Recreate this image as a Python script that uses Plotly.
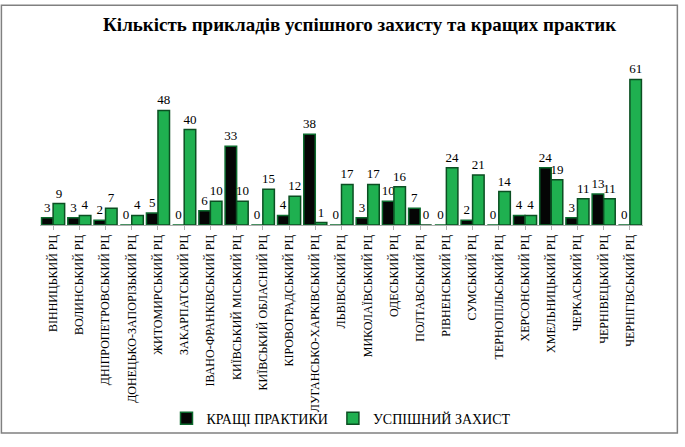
import plotly.graph_objects as go

categories = [
    "ВІННИЦЬКИЙ РЦ", "ВОЛИНСЬКИЙ РЦ", "ДНІПРОПЕТРОВСЬКИЙ РЦ", "ДОНЕЦЬКО-ЗАПОРІЗЬКИЙ РЦ",
    "ЖИТОМИРСЬКИЙ РЦ", "ЗАКАРПАТСЬКИЙ РЦ", "ІВАНО-ФРАНКІВСЬКИЙ РЦ", "КИЇВСЬКИЙ МІСЬКИЙ РЦ",
    "КИЇВСЬКИЙ ОБЛАСНИЙ РЦ", "КІРОВОГРАДСЬКИЙ РЦ", "ЛУГАНСЬКО-ХАРКІВСЬКИЙ РЦ", "ЛЬВІВСЬКИЙ РЦ",
    "МИКОЛАЇВСЬКИЙ РЦ", "ОДЕСЬКИЙ РЦ", "ПОЛТАВСЬКИЙ РЦ", "РІВНЕНСЬКИЙ РЦ",
    "СУМСЬКИЙ РЦ", "ТЕРНОПІЛЬСЬКИЙ РЦ", "ХЕРСОНСЬКИЙ РЦ", "ХМЕЛЬНИЦЬКИЙ РЦ",
    "ЧЕРКАСЬКИЙ РЦ", "ЧЕРНІВЕЦЬКИЙ РЦ", "ЧЕРНІГІВСЬКИЙ РЦ",
]
best_practices = [3, 3, 2, 0, 5, 0, 6, 33, 0, 4, 38, 0, 3, 10, 7, 0, 2, 0, 4, 24, 3, 13, 0]
successful_defense = [9, 4, 7, 4, 48, 40, 10, 10, 15, 12, 1, 17, 17, 16, 0, 24, 21, 14, 4, 19, 11, 11, 61]

serif = "Liberation Serif"

fig = go.Figure()
fig.add_trace(go.Bar(
    x=categories, y=best_practices, name="КРАЩІ ПРАКТИКИ",
    marker=dict(color="#050505", line=dict(color="#0d6b2e", width=1.5)),
    text=best_practices, textposition="outside", cliponaxis=False, constraintext="none",
    textfont=dict(family=serif, size=13, color="#000000"),
))
fig.add_trace(go.Bar(
    x=categories, y=successful_defense, name="УСПІШНИЙ ЗАХИСТ",
    marker=dict(color="#1fb050", line=dict(color="#0b4f22", width=1.5)),
    text=successful_defense, textposition="outside", cliponaxis=False, constraintext="none",
    textfont=dict(family=serif, size=13, color="#000000"),
))

fig.update_layout(
    width=685, height=447,
    margin=dict(l=40, r=42, t=58, b=218),
    paper_bgcolor="white", plot_bgcolor="white",
    font=dict(family=serif, color="#000000"),
    barmode="group", bargap=0.12, bargroupgap=0.0,
    title=dict(text="<b>Кількість прикладів успішного захисту та кращих практик</b>",
               font=dict(family=serif, size=19, color="#000000"),
               x=0.525, xanchor="center", y=0.945, yanchor="middle"),
    legend=dict(orientation="h", x=0.5, xanchor="center", y=-1.16, yanchor="middle",
                font=dict(family=serif, size=14, color="#000000"),
                bgcolor="rgba(0,0,0,0)", itemwidth=30, traceorder="normal"),
    xaxis=dict(tickangle=-90, showline=True, linecolor="#b0b0b0", linewidth=1,
               ticks="outside", tickcolor="#b0b0b0", ticklen=4, automargin=False,
               tickfont=dict(family=serif, size=12, color="#000000"), showgrid=False),
    yaxis=dict(range=[0, 70], visible=False, showgrid=False),
    showlegend=True,
)

fig.add_shape(type="rect", xref="paper", yref="paper",
              x0=-0.064, x1=1.057, y0=-1.245, y1=1.316,
              line=dict(color="#808080", width=1.5), fillcolor="rgba(0,0,0,0)", layer="below")

fig.write_html("out.html")
